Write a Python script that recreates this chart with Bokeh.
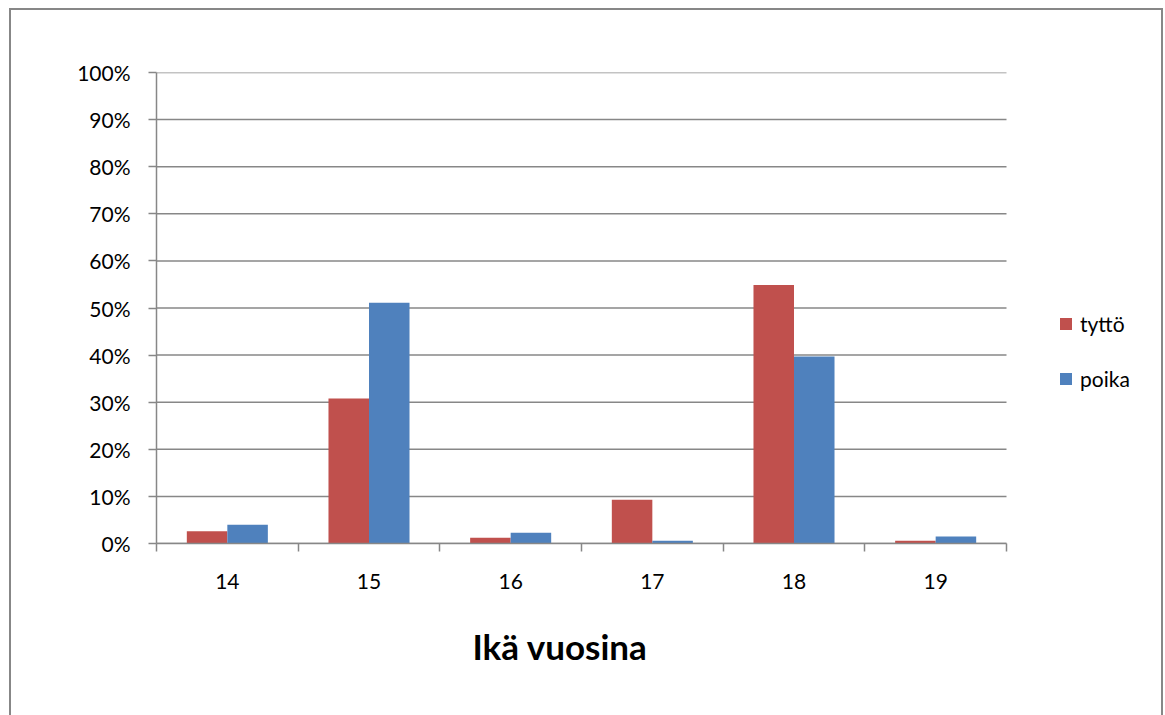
from bokeh.plotting import figure
from bokeh.models import (ColumnDataSource, FixedTicker, Range1d, Legend, LegendItem,
                          Title, NumeralTickFormatter, InlineStyleSheet)
from bokeh.embed import file_html
from bokeh.resources import INLINE

ages = ["14", "15", "16", "17", "18", "19"]
tytto = [0.026, 0.308, 0.012, 0.093, 0.549, 0.006]
poika = [0.040, 0.511, 0.023, 0.006, 0.397, 0.015]
series_names = ["tyttö", "poika"]
colors = ["#C0504D", "#4F81BD"]
y_ticks = [i / 10 for i in range(11)]
x_title = "Ikä vuosina"

FONT = "Lato"
GRID = "#878787"

n = len(ages)
centers = [i + 0.5 for i in range(n)]
src = ColumnDataSource(dict(
    xt=[c - 0.143 for c in centers],
    xp=[c + 0.143 for c in centers],
    tytto=tytto, poika=poika))

# frame spans from the y axis to the right edge of the canvas; category area = 850 px
cat_px = 850 / n
x_end = n + (1165 - 156 - 850) / cat_px

p = figure(width=1165, height=715, output_backend="svg", toolbar_location=None,
           x_range=Range1d(0, x_end), y_range=Range1d(0, 1),
           min_border_left=156, min_border_right=0,
           min_border_top=72, min_border_bottom=172)
p.outline_line_color = None
p.background_fill_color = "white"
p.border_fill_color = "white"

# horizontal gridlines, only over the category area
p.segment(x0=[0] * len(y_ticks), x1=[n] * len(y_ticks), y0=y_ticks, y1=y_ticks,
          line_color=GRID, line_width=1.5)

rt = p.vbar(x="xt", top="tytto", width=0.286, source=src, fill_color=colors[0], line_color=None)
rp = p.vbar(x="xp", top="poika", width=0.286, source=src, fill_color=colors[1], line_color=None)

# y axis
p.yaxis.ticker = FixedTicker(ticks=y_ticks, minor_ticks=[])
p.yaxis.formatter = NumeralTickFormatter(format="0%")
p.yaxis.axis_line_color = GRID
p.yaxis.axis_line_width = 1.5
p.yaxis.major_tick_line_color = GRID
p.yaxis.major_tick_line_width = 1.5
p.yaxis.major_tick_out = 8
p.yaxis.major_tick_in = 0
p.yaxis.minor_tick_line_color = None
p.yaxis.major_label_standoff = 18
p.yaxis.major_label_text_font = FONT
p.yaxis.major_label_text_font_size = "21px"
p.yaxis.major_label_text_color = "black"

# x axis: ticks at boundaries (minor), labels at centers
p.xaxis.bounds = (0, n)
p.xaxis.ticker = FixedTicker(ticks=centers, minor_ticks=list(range(n + 1)))
p.xaxis.major_label_overrides = {c: a for c, a in zip(centers, ages)}
p.xaxis.axis_line_color = GRID
p.xaxis.axis_line_width = 1.5
p.xaxis.major_tick_line_color = None
p.xaxis.major_tick_out = 0
p.xaxis.major_tick_in = 0
p.xaxis.minor_tick_line_color = GRID
p.xaxis.minor_tick_line_width = 1.5
p.xaxis.minor_tick_out = 8
p.xaxis.minor_tick_in = 0
p.xaxis.major_label_standoff = 22
p.xaxis.major_label_text_font = FONT
p.xaxis.major_label_text_font_size = "21px"
p.xaxis.major_label_text_color = "black"

p.xgrid.grid_line_color = None
p.ygrid.grid_line_color = None

legend = Legend(items=[LegendItem(label=series_names[0], renderers=[rt]),
                       LegendItem(label=series_names[1], renderers=[rp])],
                location=(902, 152), padding=0, margin=0, spacing=30,
                glyph_width=15, glyph_height=15, label_height=20,
                label_standoff=7, border_line_color=None,
                background_fill_alpha=0,
                label_text_font=FONT, label_text_font_size="21px",
                label_text_color="black")
p.add_layout(legend)

p.add_layout(Title(text=x_title, align="left", offset=316, standoff=62,
                   text_font=FONT, text_font_style="bold", text_font_size="35px",
                   text_color="black"), "below")

p.stylesheets = [InlineStyleSheet(css="""
:host { position: relative; }
:host::after {
  content: "";
  position: absolute;
  left: 9px; top: 8px;
  width: 1154px; height: calc(100% - 8px);
  border: 2px solid #878787; border-bottom: none;
  box-sizing: border-box;
  pointer-events: none;
}
""")]

open("out.html", "w").write(file_html(p, INLINE))
